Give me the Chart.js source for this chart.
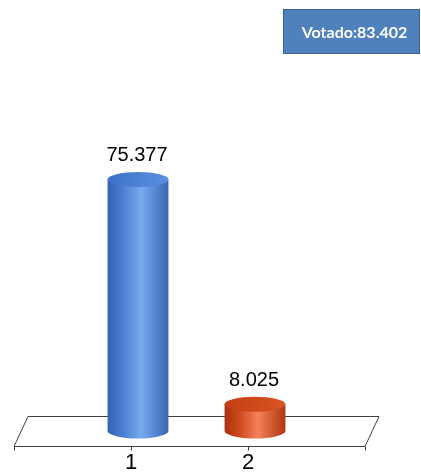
<!DOCTYPE html>
<html>
<head>
<meta charset="utf-8">
<script src="https://cdn.jsdelivr.net/npm/chart.js@4.4.1/dist/chart.umd.min.js"></script>
<style>
    html, body { margin: 0; padding: 0; background: #fff; }
    canvas { display: block; }
</style>
</head>
<body>
<canvas id="myChart" width="421" height="472"></canvas>
<script>
let categories = ['1', '2'];
let votes = [75.377, 8.025];
let totalVotes = votes.reduce((a, b) => a + b, 0);

// body gradient stops (edge, mid, highlight, edge) and top cap colours per cylinder
let bodyColors = [
    ['#3363b3', '#4a7ed0', '#78aaf0', '#3766b4'],
    ['#ab320f', '#cf4a1e', '#f4825a', '#b0350f']
];
let capColors = [
    ['#3d72c8', '#5b8fe0'],
    ['#c23e14', '#dc5424']
];

const DEPTH_X = 14, DEPTH_Y = 30, CAP_RY = 7.5;
const LABEL_FONT = '20px "Liberation Sans", Arial, sans-serif';

const cylinders = {
    id: 'cylinders',
    beforeDatasetsDraw(chart) {
        // floor plane the cylinders stand on
        const c = chart.ctx, x = chart.scales.x, area = chart.chartArea;
        const x0 = x.getPixelForTick(0), x1 = x.getPixelForTick(1);
        const cw = x1 - x0;
        const fl = x0 - cw, fr = x1 + cw;
        const fy = Math.round(area.bottom + DEPTH_Y / 2) + 0.5;
        const by = fy - DEPTH_Y;
        c.save();
        c.strokeStyle = '#404040';
        c.lineWidth = 1;
        c.fillStyle = '#fff';
        c.beginPath();
        c.moveTo(fl, fy);
        c.lineTo(fr, fy);
        c.lineTo(fr + DEPTH_X, by);
        c.lineTo(fl + DEPTH_X, by);
        c.closePath();
        c.fill();
        c.stroke();
        c.beginPath();
        [fl, x0, x1, fr].forEach(px => {
            const tx = Math.round(px) + 0.5;
            c.moveTo(tx, fy);
            c.lineTo(tx, fy + 4);
        });
        c.stroke();
        c.restore();
    },
    afterDatasetsDraw(chart) {
        const c = chart.ctx;
        const meta = chart.getDatasetMeta(0);
        meta.data.forEach((bar, i) => {
            const cx = bar.x + DEPTH_X / 2;
            const w = bar.width, rx = w / 2;
            const top = bar.y, base = bar.base;
            const left = cx - rx, right = cx + rx;

            c.save();
            const g = c.createLinearGradient(left, 0, right, 0);
            g.addColorStop(0, bodyColors[i][0]);
            g.addColorStop(0.25, bodyColors[i][1]);
            g.addColorStop(0.55, bodyColors[i][2]);
            g.addColorStop(1, bodyColors[i][3]);
            c.fillStyle = g;
            c.beginPath();
            c.moveTo(left, top);
            c.lineTo(left, base);
            c.ellipse(cx, base, rx, CAP_RY, 0, Math.PI, 0, true);
            c.lineTo(right, top);
            c.closePath();
            c.fill();

            const tg = c.createLinearGradient(left, top - CAP_RY, right, top + CAP_RY);
            tg.addColorStop(0, capColors[i][0]);
            tg.addColorStop(1, capColors[i][1]);
            c.fillStyle = tg;
            c.beginPath();
            c.ellipse(cx, top, rx, CAP_RY, 0, 0, Math.PI * 2);
            c.fill();

            c.fillStyle = '#000';
            c.font = LABEL_FONT;
            c.textAlign = 'center';
            c.textBaseline = 'alphabetic';
            c.fillText(votes[i].toFixed(3), cx - 1, top - CAP_RY - 11);
            c.restore();
        });
    },
    afterDraw(chart) {
        // total box in the top right corner
        const c = chart.ctx;
        const bx = chart.width - 138, byy = 9, bw = 137, bh = 45;
        c.save();
        c.fillStyle = '#4f81bd';
        c.fillRect(bx, byy, bw, bh);
        c.strokeStyle = '#3a6494';
        c.lineWidth = 1;
        c.strokeRect(bx + 0.5, byy + 0.5, bw - 1, bh - 1);
        c.fillStyle = '#fff';
        c.font = 'bold 16px Lato, "Open Sans", sans-serif';
        c.textAlign = 'center';
        c.textBaseline = 'middle';
        c.fillText('Votado:' + totalVotes.toFixed(3), bx + bw / 2 + 3, byy + bh / 2 + 1);
        c.restore();
    }
};

let ctx = document.getElementById('myChart');
let chart = new Chart(ctx, {
    type: 'bar',
    plugins: [cylinders],
    data: {
        labels: categories,
        datasets: [
            {
                data: votes,
                backgroundColor: 'rgba(0,0,0,0)',
                borderWidth: 0,
                barPercentage: 0.52,
                categoryPercentage: 1
            }
        ]
    },
    options: {
        responsive: false,
        animation: false,
        layout: {
            padding: { left: 72.5, right: 114.5, top: 164, bottom: 0 }
        },
        plugins: {
            legend: { display: false },
            tooltip: { enabled: false }
        },
        scales: {
            x: {
                offset: true,
                afterFit(scale) { scale.height = 41; },
                grid: { display: false, drawTicks: false },
                border: { display: false },
                ticks: {
                    color: '#000',
                    padding: 21,
                    font: { family: '"Liberation Sans", Arial, sans-serif', size: 22, lineHeight: 1 }
                }
            },
            y: {
                display: false,
                min: 0,
                max: 80
            }
        }
    }
});
</script>
</body>
</html>
